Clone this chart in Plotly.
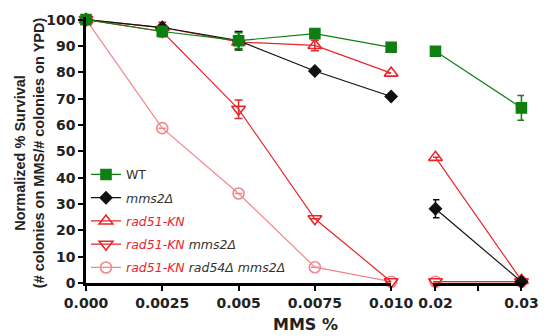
import plotly.graph_objects as go

# ---- data ----
x_low = [0.0, 0.0025, 0.005, 0.0075, 0.010]
x_high = [0.02, 0.03]
x_low_ticks = [0.0, 0.0025, 0.005, 0.0075, 0.010]
x_low_labels = ["0.000", "0.0025", "0.005", "0.0075", "0.010"]
x_high_ticks = [0.02, 0.025, 0.03]
x_high_labels = ["0.02", "", "0.03"]
y_ticks = [0, 10, 20, 30, 40, 50, 60, 70, 80, 90, 100]

wt_low = [100, 95.5, 92, 94.7, 89.5]
wt_low_err = [0, 2, 3, 0, 0]
wt_high = [88, 66.5]
wt_high_err = [0, 4.7]

mms2_low = [100, 97, 92, 80.5, 70.8]
mms2_low_err = [0, 0, 3.5, 0, 0]
mms2_high = [28.2, 0.5]
mms2_high_err = [3.4, 0]

rad51_low = [100, 97, 91.5, 90.2, 79.7]
rad51_low_err = [0, 2, 0, 2, 0]
rad51_high = [47.7, 1.0]
rad51_high_err = [0, 0]

rad51mms2_low = [100, 95.5, 66, 24.4, 0.5]
rad51mms2_low_err = [0, 0, 3.5, 0, 0]
rad51mms2_high = [0.5, 0.5]
rad51mms2_high_err = [0, 0]

triple_low = [100, 58.8, 34, 6, 0.5]
triple_low_err = [0, 0, 0, 0, 0]
triple_high = [0.5, 0.5]
triple_high_err = [0, 0]

GREEN = "#0f7f12"
BLACK = "#111111"
RED = "#e8262b"
PINK = "#f2888d"
GRAY = "#333333"

series = [
    # name, low, lowerr, high, higherr, color, symbol, size, rank, label
    ("rad51-KN rad54Δ mms2Δ", triple_low, triple_low_err, triple_high, triple_high_err, PINK, "circle-open", 11, 5,
     f"<i><span style='color:{RED}'>rad51-KN</span> <span style='color:{GRAY}'>rad54Δ mms2Δ</span></i>"),
    ("rad51-KN mms2Δ", rad51mms2_low, rad51mms2_low_err, rad51mms2_high, rad51mms2_high_err, RED, "triangle-down-open", 12, 4,
     f"<i><span style='color:{RED}'>rad51-KN</span> <span style='color:{GRAY}'>mms2Δ</span></i>"),
    ("rad51-KN", rad51_low, rad51_low_err, rad51_high, rad51_high_err, RED, "triangle-up-open", 12, 3,
     f"<i><span style='color:{RED}'>rad51-KN</span></i>"),
    ("mms2Δ", mms2_low, mms2_low_err, mms2_high, mms2_high_err, BLACK, "diamond", 9, 2,
     f"<i><span style='color:{GRAY}'>mms2Δ</span></i>"),
    ("WT", wt_low, wt_low_err, wt_high, wt_high_err, GREEN, "square", 10, 1,
     f"<span style='color:{GRAY}'>WT</span>"),
]

fig = go.Figure()
for name, lo, loerr, hi, hierr, col, sym, size, rank, label in series:
    mk = dict(color=col, symbol=sym, size=size, line=dict(color=col, width=1.6))
    fig.add_trace(go.Scatter(
        x=x_low, y=lo, mode="lines+markers", name=label, legendgroup=name,
        legendrank=rank, line=dict(color=col, width=1.2), marker=mk,
        error_y=dict(type="data", array=loerr, visible=True, color=col, thickness=1.5, width=4),
        cliponaxis=False, xaxis="x", yaxis="y"))
    fig.add_trace(go.Scatter(
        x=x_high, y=hi, mode="lines+markers", name=label, legendgroup=name,
        showlegend=False, line=dict(color=col, width=1.2), marker=mk,
        error_y=dict(type="data", array=hierr, visible=True, color=col, thickness=1.5, width=4),
        cliponaxis=False, xaxis="x2", yaxis="y"))

tickfont = dict(family="DejaVu Sans", size=14, color="#222", weight="bold")
axis_common = dict(showline=True, linecolor="black", linewidth=2.5, ticks="outside",
                   ticklen=5, tickwidth=2, tickcolor="black", showgrid=False,
                   zeroline=False, tickfont=tickfont, mirror=False)

fig.update_layout(
    width=558, height=336,
    margin=dict(l=86, r=17, t=14, b=53),
    paper_bgcolor="white", plot_bgcolor="white",
    showlegend=True,
    legend=dict(x=0.0, y=0.463, xanchor="left", yanchor="top",
                font=dict(family="DejaVu Sans", size=12.5, color=GRAY),
                bgcolor="rgba(0,0,0,0)", itemwidth=30, tracegroupgap=4,
                traceorder="grouped"),
    xaxis=dict(domain=[0, 0.6967], range=[0, 0.010], tickvals=x_low_ticks,
               ticktext=x_low_labels, anchor="y", **axis_common),
    xaxis2=dict(domain=[0.792, 1.0], range=[0.0197, 0.0303], tickvals=x_high_ticks,
                ticktext=x_high_labels, anchor="y", **axis_common),
    yaxis=dict(range=[0, 101], tickvals=y_ticks, anchor="x", **axis_common),
    annotations=[
        dict(text="<b>Normalized % Survival<br>(# colonies on MMS/# colonies on YPD)</b>",
             xref="paper", yref="paper", x=-0.129, y=0.49, xanchor="center", yanchor="middle",
             textangle=-90, showarrow=False,
             font=dict(family="Liberation Sans", size=14.5, color="#222")),
        dict(text="<b>MMS %</b>", xref="paper", yref="paper", x=0.5, y=-0.155,
             xanchor="center", yanchor="middle", showarrow=False,
             font=dict(family="DejaVu Sans", size=16, color="#222")),
    ],
)

fig.write_html("out.html", config={"displayModeBar": False},
               post_script="document.body.style.margin='0';")
